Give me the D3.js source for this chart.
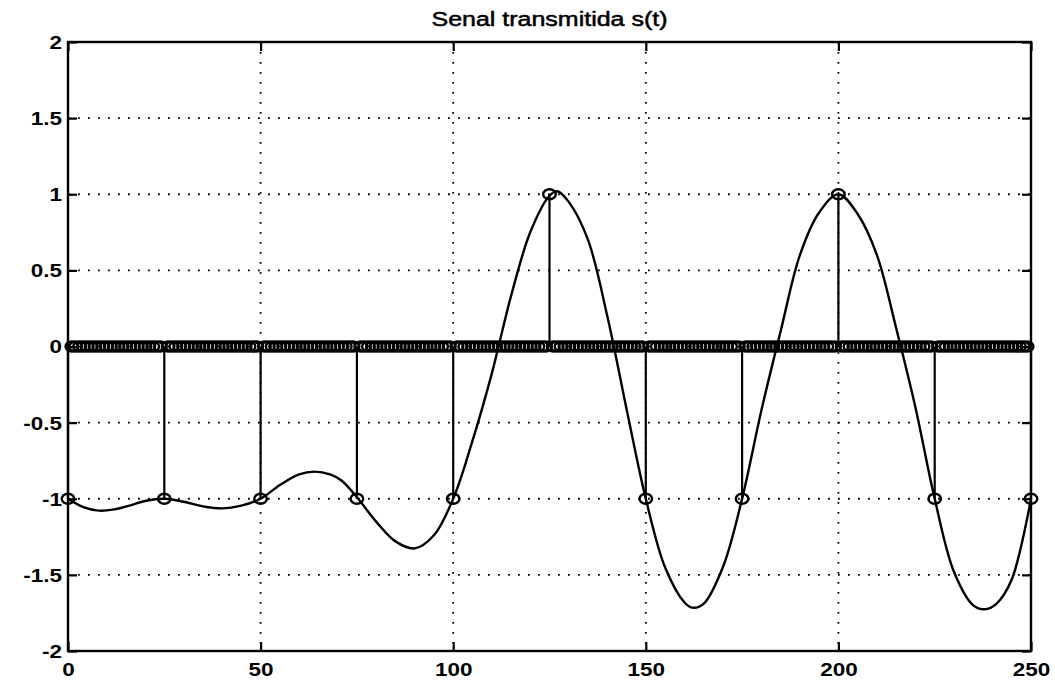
<!DOCTYPE html>
<html>
<head>
<meta charset="utf-8">
<script src="https://cdn.jsdelivr.net/npm/d3@7"></script>
<style>
  body { margin: 0; background: #fff; }
  text { font-family: "Liberation Sans", Arial, sans-serif; fill: #000; }
</style>
</head>
<body>
<div id="chart"></div>
<script>
// symbols sent every 25 samples
var symbolStep = 25;
var symbols = [-1, -1, -1, -1, -1, 1, -1, -1, 1, -1, -1];

// transmitted signal s(t)
var curveT = [0, 4, 8, 12, 16, 20, 25, 30, 35, 40, 45, 50, 55, 60, 64, 68, 71, 75, 80, 85, 90, 95, 100,
    105, 110, 115, 120, 125, 127, 130, 135, 140, 145, 150, 155, 160, 162, 165, 170, 175, 180, 185, 190,
    195, 200, 205, 210, 215, 220, 225, 230, 235, 238, 241, 245, 250];
var curveV = [-1, -1.055, -1.078, -1.07, -1.045, -1.015, -1, -1.02, -1.05, -1.063, -1.045, -1, -0.91, -0.84, -0.822, -0.84, -0.88, -0.99, -1.15, -1.28, -1.326, -1.24, -1,
    -0.62, -0.18, 0.33, 0.75, 0.99, 1.02, 0.95, 0.7, 0.2, -0.41, -1, -1.45, -1.68, -1.715, -1.69, -1.45, -1, -0.42, 0.1, 0.6,
    0.88, 1.0, 0.87, 0.6, 0.12, -0.4, -1, -1.48, -1.7, -1.726, -1.69, -1.53, -1];

var xTicks = [0, 50, 100, 150, 200, 250];
var yTicks = [-2, -1.5, -1, -0.5, 0, 0.5, 1, 1.5, 2];
var title = "Senal transmitida s(t)";

// upsampled stem sequence (zeros between symbols)
var samples = [];
for (var t = 0; t <= (symbols.length - 1) * symbolStep; t++) {
    samples.push({ t: t, v: t % symbolStep == 0 ? symbols[t / symbolStep] : 0 });
}
var curveData = curveT.map(function (d, i) { return { t: d, v: curveV[i] }; });

var W = 1055, H = 683;
var plot = { left: 68, right: 1031, top: 42, bottom: 651 };
var stretch = 1.25; // the scan is wider than tall

var svg = d3.select("#chart").append("svg")
    .attr("width", W)
    .attr("height", H);

svg.append("rect").attr("width", W).attr("height", H).attr("fill", "#fff");

var x = d3.scaleLinear().domain([0, 250]).range([plot.left, plot.right]);
var y = d3.scaleLinear().domain([-2, 2]).range([plot.bottom, plot.top]);

// dotted grid
var grid = svg.append("g")
    .attr("stroke", "#000")
    .attr("stroke-width", 1.8)
    .attr("stroke-dasharray", "1.8,8.2");
grid.selectAll("line.gx")
    .data(xTicks.slice(1, -1))
    .enter().append("line")
    .attr("class", "gx")
    .attr("x1", function (d) { return x(d); })
    .attr("x2", function (d) { return x(d); })
    .attr("y1", plot.top)
    .attr("y2", plot.bottom);
grid.selectAll("line.gy")
    .data(yTicks.slice(1, -1))
    .enter().append("line")
    .attr("class", "gy")
    .attr("x1", plot.left)
    .attr("x2", plot.right)
    .attr("y1", function (d) { return y(d); })
    .attr("y2", function (d) { return y(d); });

// continuous signal
var line = d3.line()
    .x(function (d) { return x(d.t); })
    .y(function (d) { return y(d.v); })
    .curve(d3.curveCatmullRom.alpha(0.5));

svg.append("path")
    .datum(curveData)
    .attr("fill", "none")
    .attr("stroke", "#000")
    .attr("stroke-width", 2.4)
    .attr("d", line);

// stems
svg.append("g").selectAll("line")
    .data(samples.filter(function (d) { return d.v != 0; }))
    .enter().append("line")
    .attr("x1", function (d) { return x(d.t); })
    .attr("x2", function (d) { return x(d.t); })
    .attr("y1", y(0))
    .attr("y2", function (d) { return y(d.v); })
    .attr("stroke", "#000")
    .attr("stroke-width", 2.2);

// stem markers
svg.append("g").selectAll("ellipse")
    .data(samples)
    .enter().append("ellipse")
    .attr("cx", function (d) { return x(d.t); })
    .attr("cy", function (d) { return y(d.v); })
    .attr("rx", 6.3)
    .attr("ry", 5)
    .attr("fill", "none")
    .attr("stroke", "#000")
    .attr("stroke-width", 2.4);

// axes, ticks inside on all four sides
var fmt = function (d) { return String(d); };
var yAxis = d3.axisLeft(y).tickValues(yTicks).tickSize(-9).tickPadding(6).tickFormat(fmt);
var xAxis = d3.axisBottom(x).tickValues(xTicks).tickSize(-9).tickPadding(6).tickFormat(fmt);

var gy = svg.append("g")
    .attr("transform", "translate(" + plot.left + ",0)")
    .call(yAxis);
var gx = svg.append("g")
    .attr("transform", "translate(0," + plot.bottom + ")")
    .call(xAxis);
svg.append("g")
    .attr("transform", "translate(" + plot.right + ",0)")
    .call(d3.axisRight(y).tickValues(yTicks).tickSize(-9).tickFormat(""));
svg.append("g")
    .attr("transform", "translate(0," + plot.top + ")")
    .call(d3.axisTop(x).tickValues(xTicks).tickSize(-9).tickFormat(""));

svg.selectAll(".domain").remove();
svg.selectAll(".tick line").attr("stroke", "#000").attr("stroke-width", 2.2);

gy.selectAll("text")
    .attr("x", -6 / stretch)
    .attr("dy", "0.36em")
    .attr("transform", "scale(" + stretch + ",1)")
    .style("font-size", "18px")
    .style("font-weight", "bold")
    .style("font-family", "'Liberation Sans', Arial, sans-serif");

gx.selectAll("text")
    .attr("y", 25)
    .attr("dy", 0)
    .attr("transform", "scale(" + stretch + ",1)")
    .style("font-size", "18px")
    .style("font-weight", "bold")
    .style("font-family", "'Liberation Sans', Arial, sans-serif");

// plot box
svg.append("rect")
    .attr("x", plot.left)
    .attr("y", plot.top)
    .attr("width", plot.right - plot.left)
    .attr("height", plot.bottom - plot.top)
    .attr("fill", "none")
    .attr("stroke", "#000")
    .attr("stroke-width", 2.4);

svg.append("text")
    .attr("transform", "translate(" + (plot.left + plot.right) / 2 + ",26) scale(" + stretch + ",1)")
    .attr("text-anchor", "middle")
    .style("font-size", "20px")
    .style("stroke", "#000")
    .style("stroke-width", 0.5)
    .text(title);
</script>
</body>
</html>
